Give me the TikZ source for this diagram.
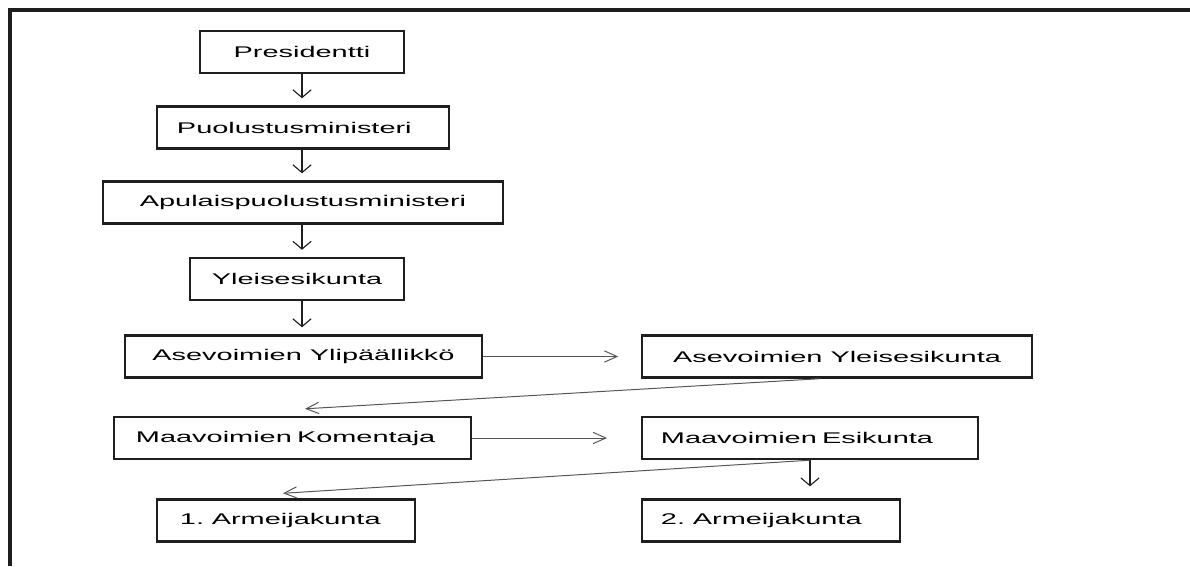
\documentclass[tikz,border=0pt]{standalone}
\usepackage{fontspec}
\usepackage{tikz}
\usetikzlibrary{arrows.meta, positioning, calc}
\newfontfamily\orgfont[FakeStretch=1.87]{Liberation Sans}
\definecolor{framegray}{RGB}{30,30,30}
\definecolor{linkgray}{RGB}{85,85,85}

\begin{document}
\begin{tikzpicture}[x=0.025cm, y=-0.025cm,
    orgbox/.style={draw=framegray, line width=1.7pt, minimum height=1.05cm, inner sep=0pt,
        font=\orgfont\fontsize{11}{13}\selectfont},
    leftbox/.style={orgbox, align=left, inner xsep=0.5cm, text width=#1},
    down/.style={-{Straight Barb[length=5.5pt, width=13pt]}, line width=0.8pt, framegray},
    side/.style={-{Straight Barb[length=9pt, width=8pt]}, line width=0.7pt, linkgray}]
    \useasboundingbox (0,0) rectangle (1190,566);

    % Frame
    \draw[line width=2.2pt, framegray] (1190,10) -- (10,10) -- (10,566);

    % Chain of command
    \node[orgbox, minimum width=5.1cm] (pres) at (302,52) {Presidentti};
    \node[leftbox=6.3cm] (puol) at (303,127.5) {Puolustusministeri};
    \node[orgbox, minimum width=10cm] (apul) at (303,202.5) {Apulaispuolustusministeri};
    \node[orgbox, minimum width=5.35cm] (ylei) at (297,279) {Yleisesikunta};
    \node[orgbox, minimum width=8.925cm] (ylip) at (303.5,356.5) {Asevoimien Ylipäällikkö};
    \node[orgbox, minimum width=9.75cm] (asys) at (837,356.5) {Asevoimien Yleisesikunta};
    \node[leftbox=7.825cm, inner xsep=0.55cm] (komt) at (292.5,438) {Maavoimien Komentaja};
    \node[leftbox=7.45cm, inner xsep=0.475cm] (maes) at (810,438) {Maavoimien Esikunta};
    \node[leftbox=5.3cm, inner xsep=0.575cm] (arm1) at (286,520.5) {1. Armeijakunta};
    \node[leftbox=5.5cm, inner xsep=0.475cm] (arm2) at (771,520.5) {2. Armeijakunta};

    % Vertical links
    \draw[down, shorten >=5pt] (pres.south) -- (pres.south |- puol.north);
    \draw[down, shorten >=5pt] (pres.south |- puol.south) -- (pres.south |- apul.north);
    \draw[down, shorten >=5pt] (pres.south |- apul.south) -- (pres.south |- ylei.north);
    \draw[down, shorten >=5pt] (pres.south |- ylei.south) -- (pres.south |- ylip.north);
    \draw[down, shorten >=8.5pt] (maes.south) -- (maes.south |- arm2.north);

    % Side links
    \draw[side, shorten >=16pt] (ylip.east) -- (asys.west);
    \draw[side, shorten >=24pt] (komt.east) -- (maes.west);
    \draw[side] ($(asys.south)+(-17,0)$) -- ($(komt.north)+(12.5,-7)$);
    \draw[side] (maes.south) -- ($(arm1.north)+(-3,-5)$);
\end{tikzpicture}
\end{document}
